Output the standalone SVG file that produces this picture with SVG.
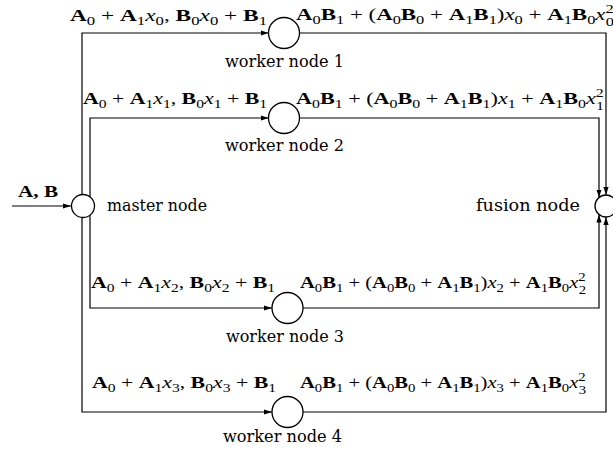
<svg xmlns="http://www.w3.org/2000/svg" width="613" height="453" viewBox="0 0 613 453">
<defs>
<style>
.m{font-family:'Liberation Serif','Times New Roman',serif;font-size:17.5px;fill:#000}
.b{font-weight:bold}
.i{font-style:italic}
.s{font-size:12.5px;font-weight:normal;font-style:normal}
.t{font-family:'DejaVu Serif',serif;font-size:17px;fill:#000}
.n{fill:#fff;stroke:#000;stroke-width:1.3}
.c{fill:none;stroke:#000;stroke-width:1.2}
</style>
<marker id="ah" viewBox="0 0 8 6" refX="8" refY="3" markerWidth="8" markerHeight="6" markerUnits="userSpaceOnUse" orient="auto">
<path d="M0,0.4 L8,3 L0,5.6 Z" fill="#000"/>
</marker>
</defs>
<rect width="613" height="453" fill="#fff"/>
<g id="connectors">
<path class="c" d="M12,206 H71" marker-end="url(#ah)"/>
<path class="c" d="M82,194.5 V33 H268.5" marker-end="url(#ah)"/>
<path class="c" d="M90,197 V118 H268.5" marker-end="url(#ah)"/>
<path class="c" d="M90,215 V308 H272" marker-end="url(#ah)"/>
<path class="c" d="M82,217.5 V412 H272" marker-end="url(#ah)"/>
<path class="c" d="M299.5,33 H606 V195" marker-end="url(#ah)"/>
<path class="c" d="M299.5,118 H599 V197.5" marker-end="url(#ah)"/>
<path class="c" d="M303,308 H599 V214.5" marker-end="url(#ah)"/>
<path class="c" d="M303,412 H606 V217" marker-end="url(#ah)"/>
</g>
<g id="input-label">
<text class="m b" x="18" y="197" textLength="40" lengthAdjust="spacingAndGlyphs">A, B</text>
</g>
<g id="master">
<circle class="n" cx="83" cy="206" r="11.5"/>
<text class="t" x="107" y="211" textLength="100" lengthAdjust="spacingAndGlyphs">master node</text>
</g>
<g id="fusion">
<circle class="n" cx="606" cy="206" r="11"/>
<text class="t" x="476" y="211" textLength="104" lengthAdjust="spacingAndGlyphs">fusion node</text>
</g>
<g id="worker1">
<circle class="n" cx="284" cy="33" r="15.5"/>
<text class="t" x="225" y="67" textLength="119" lengthAdjust="spacingAndGlyphs">worker node 1</text>
</g>
<g id="worker2">
<circle class="n" cx="284" cy="118" r="15.5"/>
<text class="t" x="225" y="151" textLength="119" lengthAdjust="spacingAndGlyphs">worker node 2</text>
</g>
<g id="worker3">
<circle class="n" cx="287.5" cy="308" r="15.5"/>
<text class="t" x="226" y="342" textLength="118" lengthAdjust="spacingAndGlyphs">worker node 3</text>
</g>
<g id="worker4">
<circle class="n" cx="287.5" cy="412" r="15.5"/>
<text class="t" x="223" y="442" textLength="119" lengthAdjust="spacingAndGlyphs">worker node 4</text>
</g>
<g id="labels">
<text class="m" x="70" y="21" textLength="197" lengthAdjust="spacingAndGlyphs"><tspan class="b">A</tspan><tspan class="s" dy="4">0</tspan><tspan dy="-4"> + </tspan><tspan class="b">A</tspan><tspan class="s" dy="4">1</tspan><tspan class="i" dy="-4">x</tspan><tspan class="s" dy="4">0</tspan><tspan dy="-4">, </tspan><tspan class="b">B</tspan><tspan class="s" dy="4">0</tspan><tspan class="i" dy="-4">x</tspan><tspan class="s" dy="4">0</tspan><tspan dy="-4"> + </tspan><tspan class="b">B</tspan><tspan class="s" dy="4">1</tspan></text>
<text class="m" x="83" y="104" textLength="184" lengthAdjust="spacingAndGlyphs"><tspan class="b">A</tspan><tspan class="s" dy="4">0</tspan><tspan dy="-4"> + </tspan><tspan class="b">A</tspan><tspan class="s" dy="4">1</tspan><tspan class="i" dy="-4">x</tspan><tspan class="s" dy="4">1</tspan><tspan dy="-4">, </tspan><tspan class="b">B</tspan><tspan class="s" dy="4">0</tspan><tspan class="i" dy="-4">x</tspan><tspan class="s" dy="4">1</tspan><tspan dy="-4"> + </tspan><tspan class="b">B</tspan><tspan class="s" dy="4">1</tspan></text>
<text class="m" x="91" y="288" textLength="184" lengthAdjust="spacingAndGlyphs"><tspan class="b">A</tspan><tspan class="s" dy="4">0</tspan><tspan dy="-4"> + </tspan><tspan class="b">A</tspan><tspan class="s" dy="4">1</tspan><tspan class="i" dy="-4">x</tspan><tspan class="s" dy="4">2</tspan><tspan dy="-4">, </tspan><tspan class="b">B</tspan><tspan class="s" dy="4">0</tspan><tspan class="i" dy="-4">x</tspan><tspan class="s" dy="4">2</tspan><tspan dy="-4"> + </tspan><tspan class="b">B</tspan><tspan class="s" dy="4">1</tspan></text>
<text class="m" x="92" y="388" textLength="184" lengthAdjust="spacingAndGlyphs"><tspan class="b">A</tspan><tspan class="s" dy="4">0</tspan><tspan dy="-4"> + </tspan><tspan class="b">A</tspan><tspan class="s" dy="4">1</tspan><tspan class="i" dy="-4">x</tspan><tspan class="s" dy="4">3</tspan><tspan dy="-4">, </tspan><tspan class="b">B</tspan><tspan class="s" dy="4">0</tspan><tspan class="i" dy="-4">x</tspan><tspan class="s" dy="4">3</tspan><tspan dy="-4"> + </tspan><tspan class="b">B</tspan><tspan class="s" dy="4">1</tspan></text>
<text class="m" x="296" y="20" textLength="318" lengthAdjust="spacingAndGlyphs"><tspan class="b">A</tspan><tspan class="s" dy="4">0</tspan><tspan class="b" dy="-4">B</tspan><tspan class="s" dy="4">1</tspan><tspan dy="-4"> + (</tspan><tspan class="b">A</tspan><tspan class="s" dy="4">0</tspan><tspan class="b" dy="-4">B</tspan><tspan class="s" dy="4">0</tspan><tspan dy="-4"> + </tspan><tspan class="b">A</tspan><tspan class="s" dy="4">1</tspan><tspan class="b" dy="-4">B</tspan><tspan class="s" dy="4">1</tspan><tspan dy="-4">)</tspan><tspan class="i">x</tspan><tspan class="s" dy="4">0</tspan><tspan dy="-4"> + </tspan><tspan class="b">A</tspan><tspan class="s" dy="4">1</tspan><tspan class="b" dy="-4">B</tspan><tspan class="s" dy="4">0</tspan><tspan class="i" dy="-4">x</tspan><tspan class="s" dy="-7.5">2</tspan><tspan class="s" dx="-6" dy="13">0</tspan></text>
<text class="m" x="296" y="104" textLength="308" lengthAdjust="spacingAndGlyphs"><tspan class="b">A</tspan><tspan class="s" dy="4">0</tspan><tspan class="b" dy="-4">B</tspan><tspan class="s" dy="4">1</tspan><tspan dy="-4"> + (</tspan><tspan class="b">A</tspan><tspan class="s" dy="4">0</tspan><tspan class="b" dy="-4">B</tspan><tspan class="s" dy="4">0</tspan><tspan dy="-4"> + </tspan><tspan class="b">A</tspan><tspan class="s" dy="4">1</tspan><tspan class="b" dy="-4">B</tspan><tspan class="s" dy="4">1</tspan><tspan dy="-4">)</tspan><tspan class="i">x</tspan><tspan class="s" dy="4">1</tspan><tspan dy="-4"> + </tspan><tspan class="b">A</tspan><tspan class="s" dy="4">1</tspan><tspan class="b" dy="-4">B</tspan><tspan class="s" dy="4">0</tspan><tspan class="i" dy="-4">x</tspan><tspan class="s" dy="-7.5">2</tspan><tspan class="s" dx="-6" dy="13">1</tspan></text>
<text class="m" x="300" y="288" textLength="286" lengthAdjust="spacingAndGlyphs"><tspan class="b">A</tspan><tspan class="s" dy="4">0</tspan><tspan class="b" dy="-4">B</tspan><tspan class="s" dy="4">1</tspan><tspan dy="-4"> + (</tspan><tspan class="b">A</tspan><tspan class="s" dy="4">0</tspan><tspan class="b" dy="-4">B</tspan><tspan class="s" dy="4">0</tspan><tspan dy="-4"> + </tspan><tspan class="b">A</tspan><tspan class="s" dy="4">1</tspan><tspan class="b" dy="-4">B</tspan><tspan class="s" dy="4">1</tspan><tspan dy="-4">)</tspan><tspan class="i">x</tspan><tspan class="s" dy="4">2</tspan><tspan dy="-4"> + </tspan><tspan class="b">A</tspan><tspan class="s" dy="4">1</tspan><tspan class="b" dy="-4">B</tspan><tspan class="s" dy="4">0</tspan><tspan class="i" dy="-4">x</tspan><tspan class="s" dy="-7.5">2</tspan><tspan class="s" dx="-6" dy="13">2</tspan></text>
<text class="m" x="300" y="388" textLength="286" lengthAdjust="spacingAndGlyphs"><tspan class="b">A</tspan><tspan class="s" dy="4">0</tspan><tspan class="b" dy="-4">B</tspan><tspan class="s" dy="4">1</tspan><tspan dy="-4"> + (</tspan><tspan class="b">A</tspan><tspan class="s" dy="4">0</tspan><tspan class="b" dy="-4">B</tspan><tspan class="s" dy="4">0</tspan><tspan dy="-4"> + </tspan><tspan class="b">A</tspan><tspan class="s" dy="4">1</tspan><tspan class="b" dy="-4">B</tspan><tspan class="s" dy="4">1</tspan><tspan dy="-4">)</tspan><tspan class="i">x</tspan><tspan class="s" dy="4">3</tspan><tspan dy="-4"> + </tspan><tspan class="b">A</tspan><tspan class="s" dy="4">1</tspan><tspan class="b" dy="-4">B</tspan><tspan class="s" dy="4">0</tspan><tspan class="i" dy="-4">x</tspan><tspan class="s" dy="-7.5">2</tspan><tspan class="s" dx="-6" dy="13">3</tspan></text>
</g>
</svg>
